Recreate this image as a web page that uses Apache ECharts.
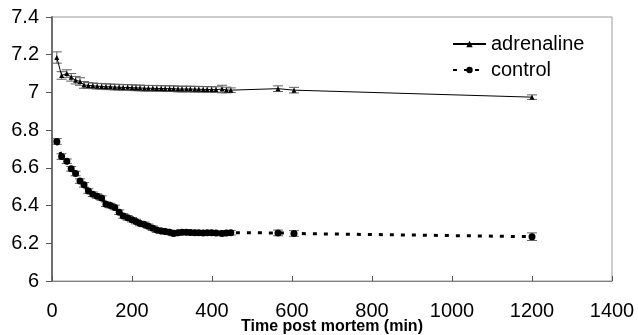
<!DOCTYPE html>
<html><head><meta charset="utf-8">
<script src="https://cdn.jsdelivr.net/npm/echarts@6/dist/echarts.min.js"></script>
<style>html,body{margin:0;padding:0;background:#fff}#c{width:638px;height:335px}</style>
</head><body><div id="c"></div>
<script>
const times = [12,24,37,48,59,70,80,91,102,113,124,135,146,157,168,178,189,200,210,220,231,241,252,262,273,283,294,304,315,325,336,346,357,367,378,388,399,410,425,436,447,565,605,1200];
const adrenaline = [7.185,7.09,7.10,7.08,7.065,7.058,7.04,7.037,7.035,7.033,7.032,7.03,7.03,7.028,7.028,7.026,7.027,7.025,7.024,7.024,7.022,7.022,7.022,7.021,7.021,7.02,7.02,7.02,7.018,7.018,7.018,7.018,7.017,7.017,7.016,7.016,7.015,7.015,7.018,7.013,7.012,7.02,7.012,6.975];
const adrenalineErr = [0.03,0.02,0.02,0.02,0.02,0.02,0.018,0.015,0.015,0.015,0.015,0.015,0.015,0.015,0.015,0.015,0.015,0.015,0.015,0.015,0.015,0.015,0.015,0.015,0.015,0.015,0.015,0.015,0.015,0.015,0.015,0.015,0.015,0.015,0.015,0.015,0.015,0.015,0.02,0.015,0.012,0.015,0.015,0.012];
const control = [6.74,6.66,6.635,6.595,6.57,6.53,6.51,6.477,6.46,6.45,6.44,6.407,6.40,6.39,6.365,6.345,6.335,6.325,6.315,6.305,6.30,6.29,6.28,6.27,6.265,6.262,6.258,6.252,6.256,6.258,6.258,6.257,6.256,6.256,6.255,6.256,6.256,6.255,6.252,6.254,6.256,6.255,6.252,6.235];
const controlErr = [0.015,0.015,0.012,0.012,0.012,0.012,0.012,0.012,0.012,0.012,0.012,0.012,0.012,0.012,0.012,0.012,0.012,0.012,0.012,0.012,0.012,0.012,0.012,0.012,0.012,0.012,0.012,0.012,0.012,0.012,0.012,0.012,0.012,0.012,0.012,0.012,0.012,0.012,0.012,0.012,0.012,0.015,0.015,0.02];
const xTicks = [0,200,400,600,800,1000,1200,1400];
const yTicks = [6,6.2,6.4,6.6,6.8,7,7.2,7.4];

const FONT = 'Liberation Sans';
function pairs(v){ return times.map((t,i)=>[t, v[i]]); }
function errData(v,e){ return times.map((t,i)=>[t, v[i]-e[i], v[i]+e[i]]); }
function errRender(capHalf){
  return function(params, api){
    const x = api.value(0);
    const lo = api.coord([x, api.value(1)]);
    const hi = api.coord([x, api.value(2)]);
    const st = {stroke:'#606060', lineWidth:1};
    return {type:'group', children:[
      {type:'line', shape:{x1:lo[0], y1:lo[1], x2:hi[0], y2:hi[1]}, style:st},
      {type:'line', shape:{x1:lo[0]-capHalf, y1:lo[1], x2:lo[0]+capHalf, y2:lo[1]}, style:st},
      {type:'line', shape:{x1:hi[0]-capHalf, y1:hi[1], x2:hi[0]+capHalf, y2:hi[1]}, style:st}
    ]};
  };
}
const chart = echarts.init(document.getElementById('c'), null, {renderer:'canvas'});
chart.setOption({
  animation:false,
  textStyle:{fontFamily:FONT},
  grid:{left:52, right:26, top:17, bottom:54, show:true, borderColor:'#9a9a9a', borderWidth:1, containLabel:false, outerBoundsMode:'none'},
  legend:{
    orient:'vertical', left:452, top:34, padding:0, itemWidth:33, itemHeight:8, itemGap:6,
    textStyle:{fontFamily:FONT, fontSize:20, color:'#000'},
    data:['adrenaline','control']
  },
  xAxis:{
    type:'value', min:0, max:1400, interval:200,
    name:'Time post mortem (min)', nameLocation:'middle', nameGap:38, nameMoveOverlap:false,
    nameTextStyle:{fontFamily:FONT, fontSize:16, fontWeight:'bold', color:'#000'},
    axisLine:{show:true, lineStyle:{color:'#808080', width:1}},
    axisTick:{show:true, inside:true, length:5, lineStyle:{color:'#555'}},
    axisLabel:{margin:20, fontSize:20, color:'#000', fontFamily:FONT,
      formatter:(v)=>xTicks.indexOf(v)>=0? String(v):''},
    splitLine:{show:false}
  },
  yAxis:{
    type:'value', min:6, max:7.4, interval:0.2,
    axisLine:{show:true, lineStyle:{color:'#707070', width:2}},
    axisTick:{show:true, length:6, lineStyle:{color:'#555'}},
    axisLabel:{margin:13, fontSize:20, color:'#000', fontFamily:FONT,
      formatter:(v)=>{ const r = Math.round(v*10)/10; return yTicks.indexOf(r)>=0 ? String(r) : ''; }},
    splitLine:{show:false}
  },
  series:[
    {type:'custom', name:'adrenalineErr', renderItem:errRender(5), data:errData(adrenaline, adrenalineErr), z:1, silent:true, encode:{x:0,y:[1,2]}},
    {type:'custom', name:'controlErr', renderItem:errRender(5), data:errData(control, controlErr), z:1, silent:true, encode:{x:0,y:[1,2]}},
    {type:'line', name:'adrenaline', data:pairs(adrenaline), symbol:'triangle', symbolSize:5, showAllSymbol:true,
      lineStyle:{color:'#000', width:1}, itemStyle:{color:'#000'}, z:3},
    {type:'line', name:'control', data:pairs(control), symbol:'circle', symbolSize:7, showAllSymbol:true,
      lineStyle:{color:'#000', width:3, type:[4,7]}, itemStyle:{color:'#000'}, z:3}
  ]
});
</script></body></html>
